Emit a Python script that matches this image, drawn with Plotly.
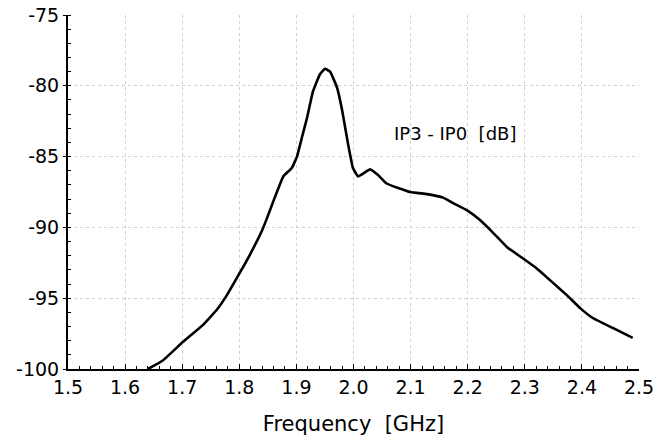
import plotly.graph_objects as go

freq_ghz = [1.640, 1.666, 1.701, 1.736, 1.761, 1.778, 1.801, 1.819, 1.840, 1.848,
            1.862, 1.877, 1.892, 1.901, 1.910, 1.919, 1.929, 1.941, 1.950, 1.959,
            1.971, 1.980, 1.990, 1.999, 2.008, 2.029, 2.043, 2.058, 2.099, 2.129,
            2.157, 2.175, 2.199, 2.222, 2.245, 2.269, 2.297, 2.321, 2.349, 2.374,
            2.397, 2.419, 2.454, 2.489]
ip3_ip0_db = [-100.0, -99.4, -98.1, -96.9, -95.8, -94.8, -93.2, -91.9, -90.2, -89.4,
              -87.9, -86.4, -85.8, -85.0, -83.6, -82.2, -80.4, -79.2, -78.8, -79.0,
              -80.1, -81.7, -84.0, -85.8, -86.4, -85.9, -86.3, -86.9, -87.5, -87.65,
              -87.9, -88.3, -88.8, -89.5, -90.4, -91.4, -92.2, -92.9, -93.9, -94.8,
              -95.7, -96.4, -97.1, -97.8]

x_ticks = [1.5, 1.6, 1.7, 1.8, 1.9, 2.0, 2.1, 2.2, 2.3, 2.4, 2.5]
x_labels = ["1.5", "1.6", "1.7", "1.8", "1.9", "2.0", "2.1", "2.2", "2.3", "2.4", "2.5"]
y_ticks = [-100, -95, -90, -85, -80, -75]
y_labels = ["-100", "-95", "-90", "-85", "-80", "-75"]

FONT = "DejaVu Sans"

fig = go.Figure()
fig.add_trace(go.Scatter(x=freq_ghz, y=ip3_ip0_db, mode="lines",
                         line=dict(color="black", width=2.6, shape="spline", smoothing=0.3),
                         showlegend=False, hoverinfo="skip", cliponaxis=True))

fig.add_annotation(x=2.177, y=-83.4, text="IP3 - IP0  [dB]", showarrow=False,
                   font=dict(family=FONT, size=18, color="black"))

fig.update_layout(
    width=668, height=440,
    margin=dict(l=68, r=29, t=15, b=71),
    plot_bgcolor="white", paper_bgcolor="white",
    font=dict(family=FONT, color="black"),
)
fig.update_xaxes(
    range=[1.5, 2.5], tickvals=x_ticks, ticktext=x_labels, automargin=False,
    tickfont=dict(family=FONT, size=19), showline=True, linecolor="black", linewidth=2,
    ticks="inside", ticklen=5, tickcolor="black",
    minor=dict(dtick=0.02, ticks="inside", ticklen=3, tickcolor="black", showgrid=False),
    showgrid=True, gridcolor="#d2d2d2", griddash="dot", gridwidth=1,
    zeroline=False, mirror=False,
    title=dict(text="Frequency  [GHz]", font=dict(family=FONT, size=21), standoff=20),
)
fig.update_yaxes(
    range=[-100, -75], tickvals=y_ticks, ticktext=y_labels, automargin=False,
    tickfont=dict(family=FONT, size=19), showline=True, linecolor="black", linewidth=2,
    ticks="outside", ticklen=3, tickcolor="black",
    minor=dict(dtick=1, ticks="inside", ticklen=3, tickcolor="black", showgrid=False),
    showgrid=True, gridcolor="#d2d2d2", griddash="dot", gridwidth=1,
    zeroline=False, mirror=False,
)

fig.write_html("out.html", config={"displayModeBar": False},
               post_script="document.body.style.margin='0';")
